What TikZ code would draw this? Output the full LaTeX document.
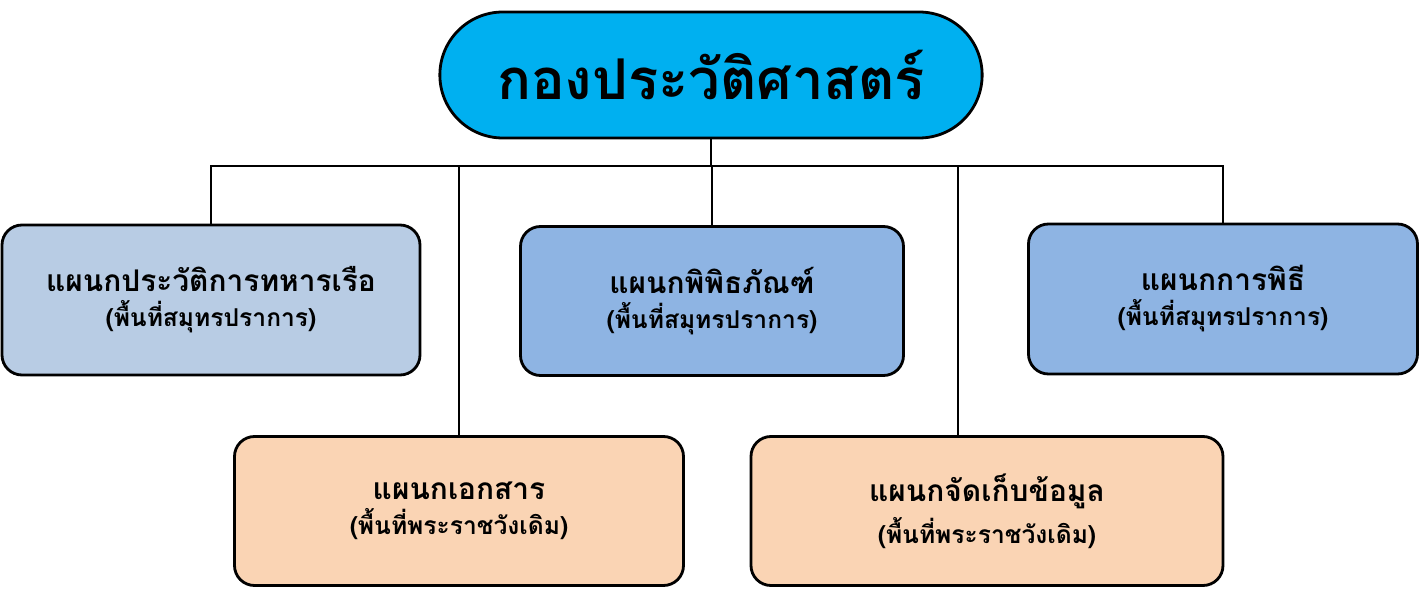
\documentclass[tikz,border=0pt]{standalone}
\usepackage{fontspec}
\newfontfamily\thaifont[Script=Thai]{Loma}
\usetikzlibrary{positioning,shapes.misc}
\definecolor{headblue}{HTML}{00B0F0}
\definecolor{lightblue}{HTML}{B8CCE4}
\definecolor{midblue}{HTML}{8EB4E3}
\definecolor{peach}{HTML}{FAD4B4}

\begin{document}
\begin{tikzpicture}[x=0.02cm,y=-0.02cm]

				\tikzstyle{every node}=[font=\thaifont\bfseries]
				\tikzstyle{unit}=[rectangle,rounded corners=0.4cm,draw=black,line width=1.6pt,align=center,inner sep=0pt]
				\useasboundingbox (0,0) rectangle (1421,598);

				\node[rounded rectangle,draw=black,fill=headblue,line width=1.6pt,minimum width=554*0.02cm,minimum height=126*0.02cm,font=\thaifont\bfseries\fontsize{32}{36}\selectfont] (head) at (711,75) {กองประวัติศาสตร์};

				\node[unit,fill=lightblue,minimum width=418*0.02cm,minimum height=150*0.02cm] (history) at (211,300) {{\fontsize{17}{20}\selectfont แผนกประวัติการทหารเรือ}\\[4pt]{\fontsize{14}{17}\selectfont (พื้นที่สมุทรปราการ)}};
				\node[unit,fill=midblue,minimum width=383*0.02cm,minimum height=149*0.02cm] (museum) at (712,301) {{\fontsize{17}{20}\selectfont แผนกพิพิธภัณฑ์}\\[4pt]{\fontsize{14}{17}\selectfont (พื้นที่สมุทรปราการ)}};
				\node[unit,fill=midblue,minimum width=389*0.02cm,minimum height=150*0.02cm] (ceremony) at (1223,299) {{\fontsize{17}{20}\selectfont แผนกการพิธี}\\[4pt]{\fontsize{14}{17}\selectfont (พื้นที่สมุทรปราการ)}};
				\node[unit,fill=peach,minimum width=449*0.02cm,minimum height=149*0.02cm] (documents) at (459,511) {{\fontsize{17}{20}\selectfont แผนกเอกสาร}\\[4pt]{\fontsize{14}{17}\selectfont (พื้นที่พระราชวังเดิม)}};
				\node[unit,fill=peach,minimum width=472*0.02cm,minimum height=149*0.02cm] (archive) at (987,511) {{\fontsize{17}{20}\selectfont แผนกจัดเก็บข้อมูล}\\[4pt]{\fontsize{14}{17}\selectfont (พื้นที่พระราชวังเดิม)}};

				\coordinate (bus) at (711,166);
				\draw[line width=1pt] (head.south) -- (bus);
				\draw[line width=1pt] (history.north) |- (bus) -| (ceremony.north);
				\draw[line width=1pt] (museum.north) -- (museum.north |- bus);
				\draw[line width=1pt] (documents.north) -- (documents.north |- bus);
				\draw[line width=1pt] (958,166) -- (958,437) coordinate (archtop);

\end{tikzpicture}
\end{document}
